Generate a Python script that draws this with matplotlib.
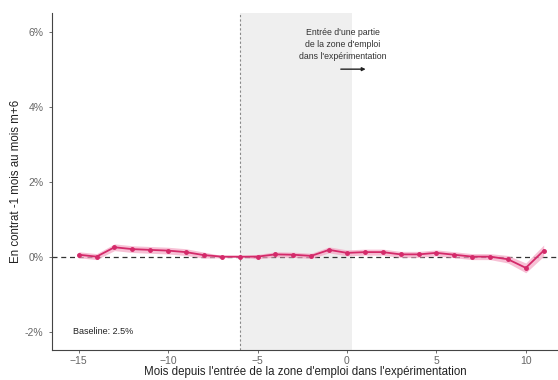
import matplotlib
matplotlib.use("Agg")
import matplotlib.pyplot as plt
import numpy as np

plt.rcParams['font.family'] = ['Liberation Sans', 'DejaVu Sans']

months = [-15, -14, -13, -12, -11, -10, -9, -8, -7, -6, -5, -4, -3, -2, -1,
          0, 1, 2, 3, 4, 5, 6, 7, 8, 9, 10, 11]
effect = [0.05, 0.0, 0.25, 0.20, 0.18, 0.16, 0.12, 0.04, 0.0, 0.0, 0.0, 0.06,
          0.05, 0.02, 0.18, 0.10, 0.12, 0.12, 0.06, 0.06, 0.10, 0.05, 0.0,
          0.0, -0.07, -0.30, 0.16]
ci_half = [0.08, 0.08, 0.09, 0.09, 0.09, 0.09, 0.09, 0.08, 0.03, 0.02, 0.06, 0.07,
           0.07, 0.07, 0.08, 0.08, 0.08, 0.08, 0.08, 0.08, 0.08, 0.08, 0.08,
           0.08, 0.10, 0.13, 0.15]
xticks = [-15, -10, -5, 0, 5, 10]
yticks = [-2, 0, 2, 4, 6]
ytick_labels = ['-2%', '0%', '2%', '4%', '6%']

line_color = '#d42a6a'
band_color = '#f4a6c4'

fig = plt.figure(figsize=(5.58, 3.80), dpi=100)
ax = fig.add_axes([0.093, 0.078, 0.907, 0.888])

ax.axvspan(-6, 0.3, color='#efefef', lw=0, zorder=0)
ax.axvline(-6, color='#888888', lw=0.8, ls=(0, (2, 2)), zorder=1)
ax.axhline(0, color='#333333', lw=0.9, ls=(0, (4, 3)), zorder=1)

m = np.array(months)
e = np.array(effect)
c = np.array(ci_half)
ax.fill_between(m, e - c, e + c, color=band_color, alpha=0.7, lw=0, zorder=2)
ax.plot(m, e, color=line_color, lw=1.3, marker='o', ms=2.5, zorder=3)

ax.annotate('', xy=(1.2, 5.0), xytext=(-0.5, 5.0),
            arrowprops=dict(arrowstyle='-|>', color='#222222', lw=1.0,
                            mutation_scale=5))
ax.text(-0.25, 5.65, "Entrée d'une partie\nde la zone d'emploi\ndans l'expérimentation",
        ha='center', va='center', fontsize=6.3, color='#333333', linespacing=1.45)
ax.text(-15.3, -2.0, 'Baseline: 2.5%', ha='left', va='center', fontsize=6.5,
        color='#222222')

ax.set_xlim(-16.5, 11.8)
ax.set_ylim(-2.5, 6.5)
ax.set_xticks(xticks)
ax.set_yticks(yticks)
ax.set_yticklabels(ytick_labels)
ax.tick_params(axis='both', labelsize=7.5, colors='#555555', length=2.5,
               width=0.6, labelcolor='#666666')
ax.tick_params(axis='x', pad=1.5)
for s in ['top', 'right']:
    ax.spines[s].set_visible(False)
for s in ['left', 'bottom']:
    ax.spines[s].set_color('#444444')
    ax.spines[s].set_linewidth(0.8)

ax.set_xlabel("Mois depuis l'entrée de la zone d'emploi dans l'expérimentation",
              fontsize=8.3, color='#222222', labelpad=0)
ax.set_ylabel('En contrat -1 mois au mois m+6', fontsize=8.3, color='#222222',
              labelpad=2)

fig.savefig('out.png', dpi=100)
